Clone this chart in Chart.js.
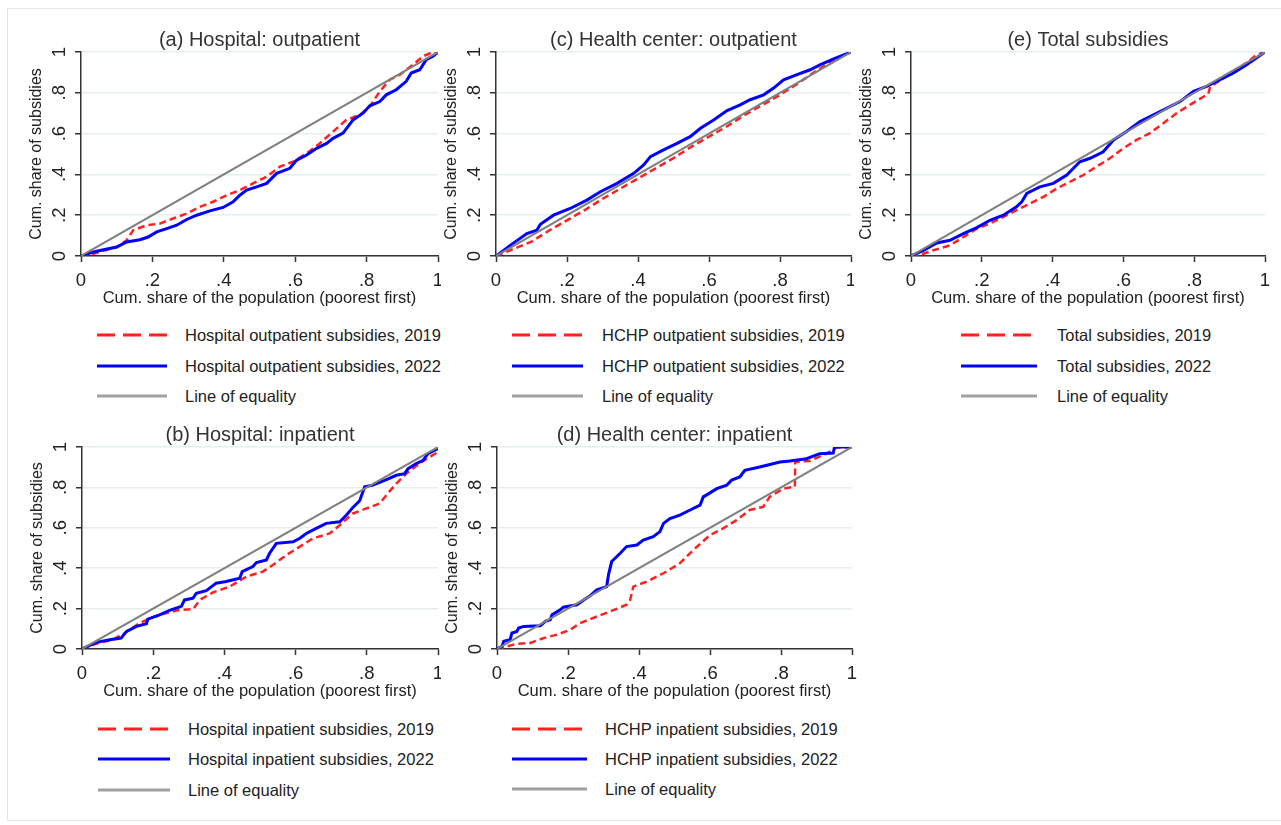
<!DOCTYPE html>
<html>
<head>
<meta charset="utf-8">
<script src="https://cdn.jsdelivr.net/npm/chart.js@4.4.1/dist/chart.umd.min.js"></script>
<style>
  html, body { margin: 0; padding: 0; background: #fff; overflow: hidden; }
  body { width: 1281px; height: 825px; position: relative; font-family: "Liberation Sans", Arial, sans-serif; }
  #frame { position: absolute; left: 7px; top: 8px; width: 1300px; height: 811px; border: 1px solid #e6e6e6; }
  canvas { position: absolute; }
  .leg { position: absolute; font-size: 16.5px; color: #222; white-space: nowrap; line-height: 20px; }
  svg { position: absolute; overflow: visible; }
</style>
</head>
<body>
<div id="frame"></div>

<script>
// tick labels (Stata style)
const tickLabels = ['0', '.2', '.4', '.6', '.8', '1'];

// equality line
const eqX = [0, 1];
const eqY = [0, 1];

// (a) Hospital: outpatient
const hospOut2019x = [0, .035, .10, .128, .146, .184, .221, .258, .296, .333, .37, .408, .445, .482, .52, .557, .594, .632, .669, .706, .743, .781, .809, .837, .865, .893, .93, .958, .986, 1];
const hospOut2019y = [0, .011, .044, .077, .126, .151, .159, .184, .208, .241, .266, .298, .323, .356, .389, .438, .462, .503, .552, .61, .667, .692, .733, .807, .864, .889, .938, .979, 1, 1];
const hospOut2022x = [0, .035, .063, .10, .128, .165, .188, .212, .24, .268, .296, .324, .361, .398, .426, .445, .464, .492, .52, .548, .585, .604, .632, .66, .688, .706, .734, .762, .79, .809, .837, .855, .883, .911, .925, .949, .967, .986, 1];
const hospOut2022y = [0, .02, .031, .044, .069, .08, .093, .118, .134, .151, .179, .2, .221, .238, .266, .298, .323, .339, .356, .405, .43, .47, .495, .528, .552, .577, .602, .667, .7, .736, .757, .79, .815, .856, .897, .913, .962, .979, 1];

// (c) Health center: outpatient
const hcOut2019x = [0, .05, .1, .15, .2, .25, .3, .35, .4, .45, .5, .55, .6, .65, .7, .75, .8, .85, .9, .95, 1];
const hcOut2019y = [0, .035, .07, .125, .175, .225, .28, .33, .38, .43, .48, .535, .585, .635, .69, .74, .79, .845, .905, .96, 1];
const hcOut2022x = [0, .04, .087, .115, .125, .162, .209, .256, .294, .341, .388, .416, .435, .472, .51, .547, .576, .613, .651, .688, .716, .754, .782, .81, .848, .885, .914, .951, 1];
const hcOut2022y = [0, .052, .11, .126, .156, .2, .233, .274, .315, .356, .405, .446, .487, .52, .552, .585, .626, .667, .713, .741, .766, .79, .823, .864, .889, .913, .938, .966, 1];

// (e) Total subsidies
const total2019x = [0, .035, .063, .11, .148, .186, .223, .261, .298, .336, .374, .412, .449, .487, .524, .562, .6, .637, .675, .713, .75, .788, .84, .845, .9, .95, .975, 1];
const total2019y = [0, .011, .028, .052, .093, .134, .159, .192, .225, .257, .29, .331, .364, .397, .438, .479, .528, .569, .602, .651, .7, .741, .795, .83, .89, .95, .985, 1];
const total2022x = [0, .035, .073, .11, .148, .186, .223, .261, .298, .313, .327, .364, .402, .44, .477, .506, .543, .572, .609, .647, .685, .723, .76, .798, .835, .873, .911, .948, 1];
const total2022y = [0, .028, .064, .077, .11, .139, .175, .2, .241, .266, .307, .339, .356, .397, .462, .479, .511, .569, .61, .659, .692, .725, .757, .807, .831, .864, .897, .938, 1];

// (b) Hospital: inpatient
const hospIn2019x = [0, .04, .087, .12, .162, .199, .237, .274, .312, .331, .368, .415, .462, .508, .536, .574, .612, .649, .696, .724, .761, .799, .836, .855, .883, .911, .948, .977, 1];
const hospIn2019y = [0, .026, .046, .079, .128, .158, .178, .194, .197, .243, .28, .309, .359, .383, .416, .465, .507, .548, .572, .613, .671, .696, .72, .762, .819, .868, .918, .951, .975];
const hospIn2022x = [0, .04, .078, .11, .125, .153, .181, .185, .218, .246, .279, .288, .312, .321, .349, .377, .405, .443, .45, .48, .49, .518, .527, .546, .593, .612, .63, .658, .686, .724, .743, .761, .78, .794, .817, .855, .883, .906, .916, .939, .958, .972, 1];
const hospIn2022y = [0, .033, .046, .054, .087, .112, .125, .148, .169, .191, .211, .243, .252, .276, .289, .326, .334, .35, .383, .408, .428, .441, .474, .523, .531, .548, .572, .597, .622, .63, .663, .701, .734, .803, .811, .839, .86, .868, .893, .918, .934, .967, .992];

// (d) Health center: inpatient
const hcIn2019x = [0, .028, .056, .094, .131, .169, .206, .234, .281, .319, .365, .375, .384, .422, .469, .515, .553, .6, .637, .675, .712, .75, .768, .806, .839, .84, .881, .928, .956, 1];
const hcIn2019y = [0, .013, .026, .03, .054, .071, .095, .128, .161, .186, .219, .243, .309, .334, .375, .424, .49, .564, .597, .638, .688, .704, .753, .794, .803, .926, .931, .967, .997, 1];
const hcIn2022x = [0, .014, .019, .037, .042, .056, .061, .075, .122, .136, .15, .155, .178, .187, .225, .244, .262, .281, .309, .314, .323, .347, .365, .394, .412, .44, .459, .469, .487, .515, .544, .572, .581, .6, .619, .647, .661, .684, .698, .74, .797, .825, .872, .909, .947, .951, 1];
const hcIn2022y = [0, .013, .038, .046, .079, .087, .104, .112, .115, .137, .145, .169, .194, .207, .219, .243, .263, .293, .309, .367, .433, .474, .507, .515, .539, .556, .581, .622, .646, .663, .688, .712, .753, .773, .794, .811, .836, .852, .885, .901, .926, .931, .942, .967, .97, 1, 1];

const FONT = "'Liberation Sans', Arial, sans-serif";
const INK = '#222';

function pts(xs, ys) {
    return xs.map((x, i) => ({ x: x, y: ys[i] }));
}

function addChart(p) {
    const cv = document.createElement('canvas');
    const L = p.pl - 71;
    const T = p.pt - 32;
    const R = p.clip ? p.pr + 3 : p.pr + 16;
    const W = R - L;
    const H = p.pb + 52 - T;
    cv.width = W; cv.height = H;
    cv.style.left = L + 'px'; cv.style.top = T + 'px';
    cv.style.width = W + 'px'; cv.style.height = H + 'px';
    document.body.appendChild(cv);

    new Chart(cv.getContext('2d'), {
        type: 'scatter',
        data: {
            datasets: [
                { data: pts(eqX, eqY), borderColor: '#808080', borderWidth: 2 },
                { data: pts(p.x22, p.y22), borderColor: '#0000ff', borderWidth: 3 },
                { data: pts(p.x19, p.y19), borderColor: '#ff2020', borderWidth: 2.5, borderDash: [7, 4] }
            ].map(d => Object.assign(d, { showLine: true, pointRadius: 0, pointHoverRadius: 0, tension: 0, fill: false }))
        },
        options: {
            responsive: false,
            animation: false,
            events: [],
            layout: { padding: { left: 0, top: 0, bottom: 0, right: W - (p.pr - L) } },
            plugins: {
                legend: { display: false },
                tooltip: { enabled: false },
                title: {
                    display: true,
                    text: p.title,
                    fullSize: false,
                    color: '#333',
                    font: { family: FONT, size: 20, weight: 'normal' },
                    padding: { top: 8, bottom: 0 }
                }
            },
            scales: {
                x: {
                    type: 'linear', min: 0, max: 1,
                    afterFit: s => { s.height = 52; s.paddingLeft = 0; s.paddingRight = 0; },
                    ticks: {
                        stepSize: 0.2, color: INK, padding: 8, maxRotation: 0,
                        font: { family: FONT, size: 18.5 },
                        callback: (v, i) => tickLabels[i]
                    },
                    grid: { color: 'rgba(0,0,0,0)', drawOnChartArea: false, tickLength: 6, tickColor: '#333', tickWidth: 1.5 },
                    border: { color: '#333', width: 1.5 },
                    title: { display: true, text: 'Cum. share of the population (poorest first)', color: INK,
                        font: { family: FONT, size: 16.5 }, padding: { top: 0, bottom: 0.1 } }
                },
                y: {
                    type: 'linear', min: 0, max: 1,
                    afterFit: s => { s.width = 71; s.paddingTop = 0; s.paddingBottom = 0; },
                    ticks: {
                        stepSize: 0.2, color: INK, padding: 7.5, minRotation: 90, maxRotation: 90, crossAlign: 'center',
                        font: { family: FONT, size: 18.5 },
                        callback: (v, i) => tickLabels[i]
                    },
                    grid: { color: '#e6eef0', lineWidth: 1.5, tickLength: 6, tickColor: '#333', tickWidth: 1.5 },
                    border: { color: '#333', width: 1.5 },
                    title: { display: true, text: 'Cum. share of subsidies', color: INK,
                        font: { family: FONT, size: 16 }, padding: { top: 17.4, bottom: 0 } }
                }
            }
        }
    });

    // legend: three rows below the panel
    const items = [
        { text: p.leg + ', 2019', color: '#ff2020', dash: '18 8' },
        { text: p.leg + ', 2022', color: '#0000ff', dash: '' },
        { text: 'Line of equality', color: '#a0a0a0', dash: '' }
    ];
    items.forEach((it, k) => {
        const y = p.ly[k];
        const svg = document.createElementNS('http://www.w3.org/2000/svg', 'svg');
        svg.setAttribute('width', p.lx2 - p.lx1);
        svg.setAttribute('height', 6);
        svg.style.left = p.lx1 + 'px';
        svg.style.top = (y - 3) + 'px';
        const ln = document.createElementNS('http://www.w3.org/2000/svg', 'line');
        ln.setAttribute('x1', 0); ln.setAttribute('x2', p.lx2 - p.lx1);
        ln.setAttribute('y1', 3); ln.setAttribute('y2', 3);
        ln.setAttribute('stroke', it.color);
        ln.setAttribute('stroke-width', 3);
        if (it.dash) ln.setAttribute('stroke-dasharray', it.dash);
        svg.appendChild(ln);
        document.body.appendChild(svg);

        const d = document.createElement('div');
        d.className = 'leg';
        d.textContent = it.text;
        d.style.left = p.tx + 'px';
        d.style.top = (y - 10) + 'px';
        document.body.appendChild(d);
    });
}

const panels = [
    { title: '(a) Hospital: outpatient', leg: 'Hospital outpatient subsidies',
      pl: 81, pr: 438, pt: 52, pb: 256, clip: true,
      x19: hospOut2019x, y19: hospOut2019y, x22: hospOut2022x, y22: hospOut2022y,
      lx1: 97, lx2: 167, tx: 185, ly: [335, 366, 396] },
    { title: '(c) Health center: outpatient', leg: 'HCHP outpatient subsidies',
      pl: 496, pr: 851, pt: 52, pb: 256, clip: true,
      x19: hcOut2019x, y19: hcOut2019y, x22: hcOut2022x, y22: hcOut2022y,
      lx1: 512, lx2: 583, tx: 602, ly: [335, 366, 396] },
    { title: '(e) Total subsidies', leg: 'Total subsidies',
      pl: 911, pr: 1265, pt: 52, pb: 256, clip: false,
      x19: total2019x, y19: total2019y, x22: total2022x, y22: total2022y,
      lx1: 961, lx2: 1037, tx: 1057, ly: [335, 366, 396] },
    { title: '(b) Hospital: inpatient', leg: 'Hospital inpatient subsidies',
      pl: 82, pr: 438, pt: 447, pb: 649, clip: true,
      x19: hospIn2019x, y19: hospIn2019y, x22: hospIn2022x, y22: hospIn2022y,
      lx1: 98, lx2: 170, tx: 188, ly: [729, 759, 790] },
    { title: '(d) Health center: inpatient', leg: 'HCHP inpatient subsidies',
      pl: 497, pr: 852, pt: 447, pb: 649, clip: false,
      x19: hcIn2019x, y19: hcIn2019y, x22: hcIn2022x, y22: hcIn2022y,
      lx1: 512, lx2: 587, tx: 605, ly: [729, 759, 789] }
];

panels.forEach(addChart);
</script>
</body>
</html>
